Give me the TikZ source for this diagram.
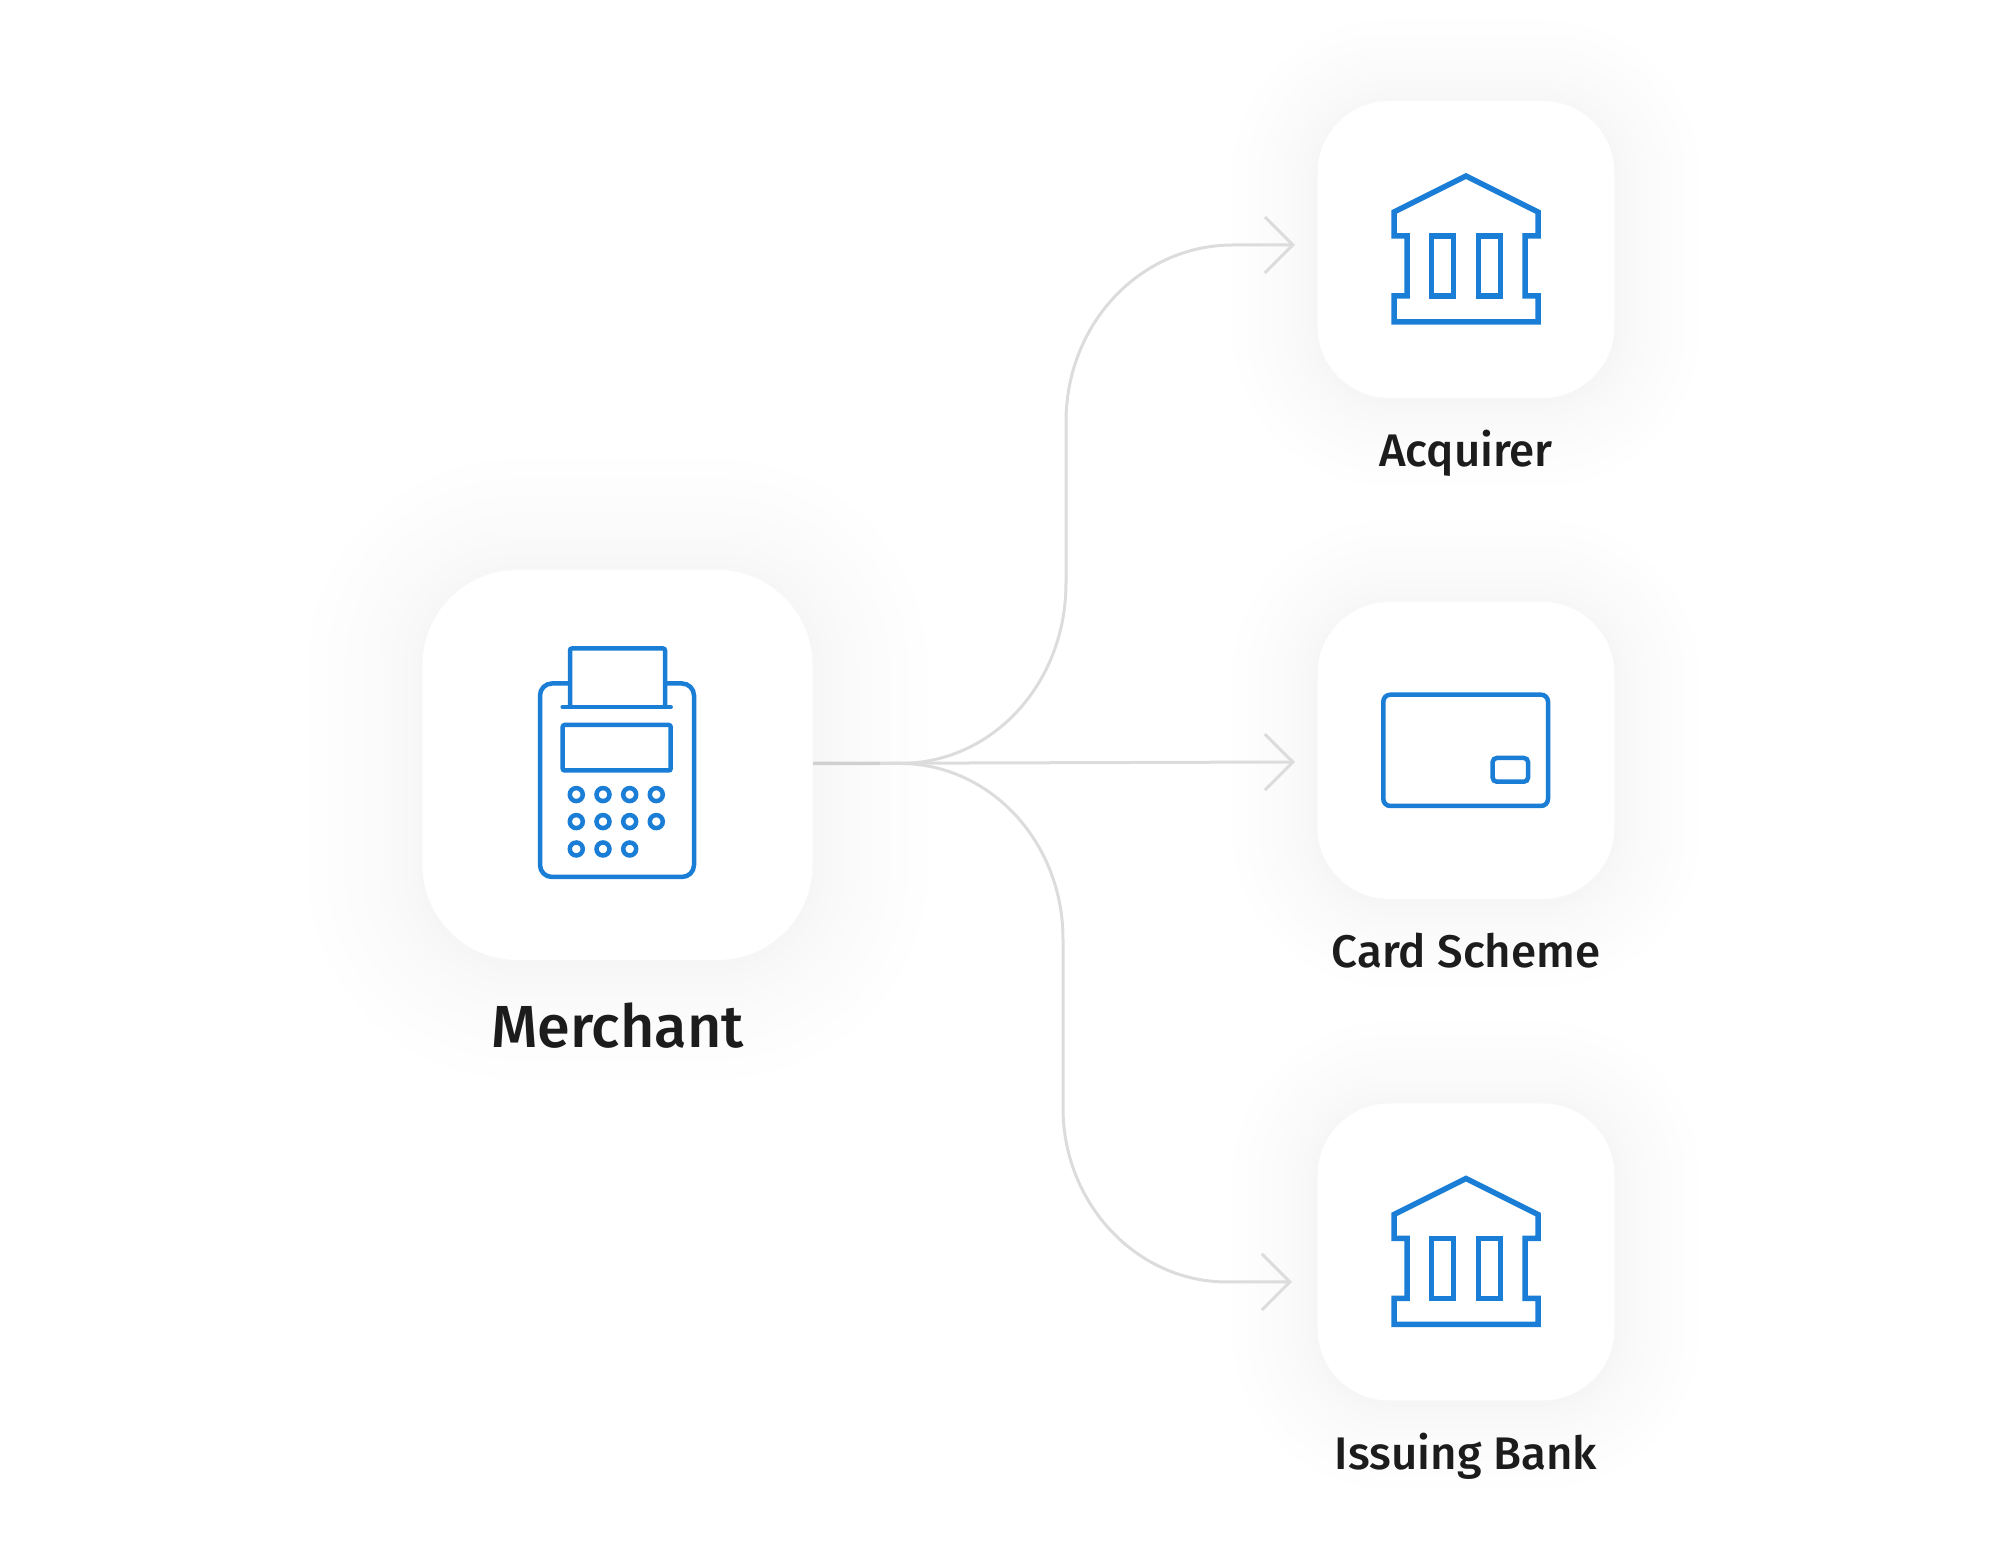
\documentclass[tikz,border=0pt]{standalone}
\usepackage{fontspec}
\setmainfont{Fira Sans Medium}
\usetikzlibrary{arrows.meta}
\definecolor{iconblue}{HTML}{1A7DD6}
\definecolor{labelink}{HTML}{1C1C1C}
\definecolor{wiregray}{HTML}{DCDCDC}
\definecolor{stemgray}{HTML}{D0D0D0}
\tikzset{
  bigcard/.style={fill=white, rounded corners=9.5mm, minimum size=39mm, inner sep=0pt},
  smallcard/.style={fill=white, rounded corners=7.2mm, minimum size=29.7mm, inner sep=0pt},
  bigname/.style={anchor=base, text=labelink, font=\fontsize{16.9pt}{18pt}\selectfont},
  smallname/.style={anchor=base, text=labelink, font=\fontsize{13pt}{14pt}\selectfont},
  wire/.style={draw=wiregray, line width=.3mm, -{Straight Barb[length=2.8mm,width=5.6mm]}},
  iconline/.style={draw=iconblue, line width=.45mm},
  bankicon/.pic={
    \draw[iconblue, line width=.55mm] (-72,-37.5) -- (0,-73.5) -- (72,-37.5) -- (72,-13.5) -- (59,-13.5)
      -- (59,46.5) -- (72,46.5) -- (72,72.5) -- (-72,72.5) -- (-72,46.5) -- (-59,46.5)
      -- (-59,-13.5) -- (-72,-13.5) -- cycle;
    \draw[iconblue, line width=.55mm] (-34.5,-13.5) rectangle (-12.5,46.5);
    \draw[iconblue, line width=.55mm] (12.5,-13.5) rectangle (34.5,46.5);
  }
}
\begin{document}
\begin{tikzpicture}[x=.1mm, y=-.1mm]
  \useasboundingbox (0,0) rectangle (2000,1550);
  \foreach \cx/\cy/\half/\corner/\reach in {617.5/769/195/95/115, 1466/253/148.5/72/85, 1466/754/148.5/72/85, 1466/1255/148.5/72/85}
    \foreach \i in {1,...,9} {
      \pgfmathsetmacro{\grow}{\reach*((10-\i)/9)^1.6}
      \pgfmathsetmacro{\round}{\corner+\grow}
      \pgfmathsetmacro{\tone}{\i*.4}
      \fill[black!\tone, rounded corners=\round*.1mm]
        (\cx-\half-\grow,\cy-\half-\grow) rectangle (\cx+\half+\grow,\cy+\half+\grow);
    }

  \node[bigcard] (merchant) at (617.5,765) {};
  \node[smallcard] (acquirer) at (1466,249.5) {};
  \node[smallcard] (scheme) at (1466,750.5) {};
  \node[smallcard] (issuing) at (1466,1252) {};

  \node[bigname] (merchantname) at (617.5,1048) {Merchant};
  \node[smallname] (acquirername) at (1466,467) {Acquirer};
  \node[smallname] (schemename) at (1466,968) {Card Scheme};
  \node[smallname] (issuingname) at (1466,1470) {Issuing Bank};

  \coordinate (tail) at ([yshift=.15mm]merchant.east);
  \coordinate (tipacquirer) at (1295,245);
  \coordinate (tipscheme) at (1295,762);
  \coordinate (tipissuing) at (1292,1282);
  \coordinate (stemend) at (880,763.5);

  \draw[wire] (tail) -- (900,763.5) .. controls (992,763.5) and (1066,684) .. (1066,583)
    -- (1066,422) .. controls (1066,323) and (1141,245) .. (1233,245) -- (tipacquirer);
  \draw[wire] (tail) -- (tipscheme);
  \draw[wire] (tail) -- (900,763.5) .. controls (990,763.5) and (1063,842) .. (1063,939)
    -- (1063,1108) .. controls (1063,1203) and (1136,1282) .. (1227,1282) -- (tipissuing);
  \draw[stemgray, line width=.32mm] (tail) -- (stemend);

  \draw[iconline, rounded corners=1.2mm] (570,683.5) -- (540,683.5) -- (540,877) -- (694,877) -- (694,683.5) -- (665,683.5);
  \draw[iconline, rounded corners=.2mm] (570,707) -- (570,648.5) -- (665,648.5) -- (665,707);
  \draw[iconline, line cap=round] (562.7,707) -- (670.7,707);
  \draw[iconline, rounded corners=.2mm] (562.7,725) rectangle (670.7,770.5);
  \foreach \kx in {576.3,603,629.7,656.3}
    \foreach \ky in {794.6,821.6}
      \draw[iconline] (\kx,\ky) circle[radius=.65mm];
  \foreach \kx in {576.3,603,629.7}
    \draw[iconline] (\kx,849) circle[radius=.65mm];

  \pic at (acquirer.center) {bankicon};
  \pic at (issuing.center) {bankicon};

  \draw[iconline, rounded corners=.7mm] (1383.3,694.7) rectangle (1548,806);
  \draw[iconline, rounded corners=.4mm] (1492.7,758) rectangle (1528,781.7);
\end{tikzpicture}
\end{document}
